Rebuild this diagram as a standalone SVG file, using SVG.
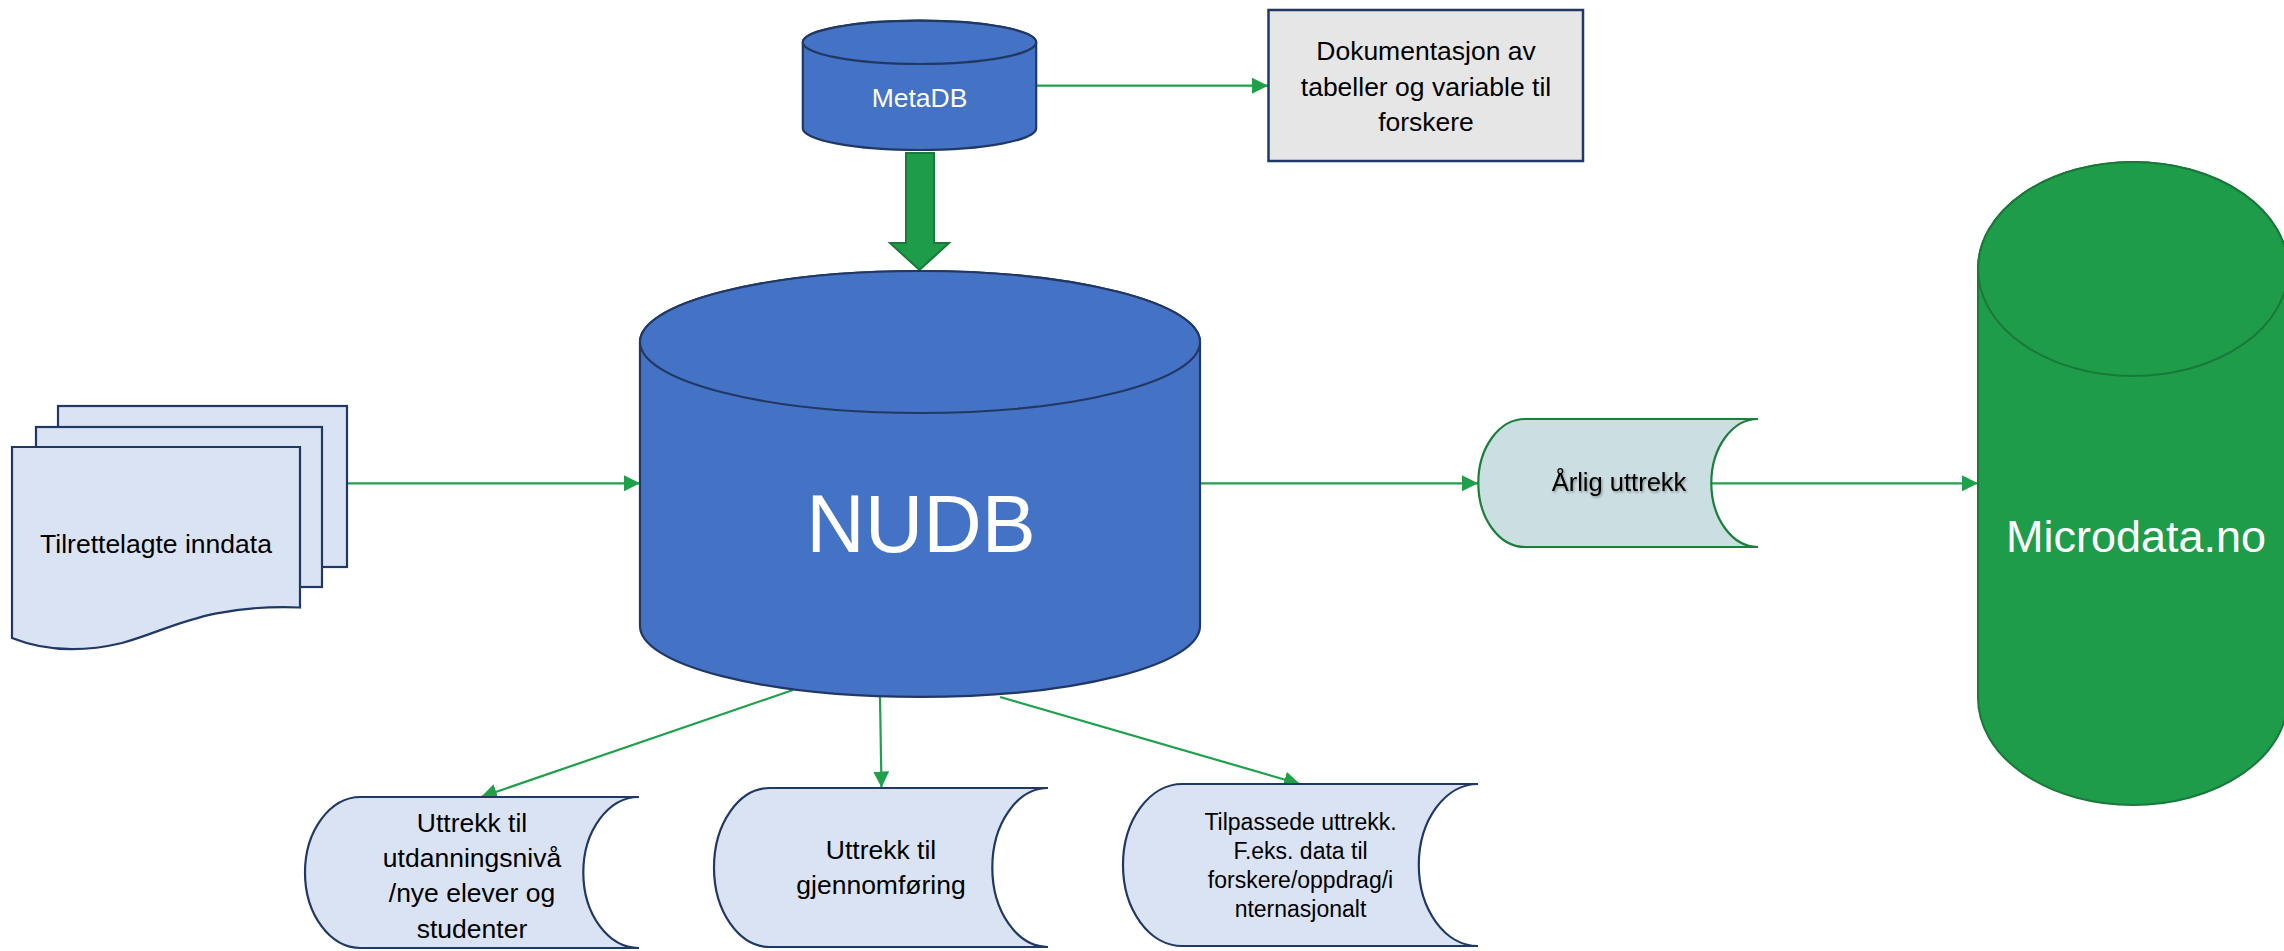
<svg xmlns="http://www.w3.org/2000/svg" width="2284" height="951" viewBox="0 0 2284 951">
<style>
.blue{fill:#4472c4;stroke:#203864;stroke-width:2.2}
.pale{fill:#dae3f3;stroke:#203864;stroke-width:2.2}
.grey{fill:#e7e6e6;stroke:#203864;stroke-width:2.5}
.teal{fill:#cbdee2;stroke:#1c7e3b;stroke-width:2.2}
.green{fill:#1e9c4a;stroke:#18793a;stroke-width:2}
.conn{stroke:#1fa04b;stroke-width:2.2;fill:none;marker-end:url(#ah)}
text{font-family:"Liberation Sans",Arial,sans-serif;text-anchor:middle}
.lbl{font-size:26.5px;fill:#000}
.sm{font-size:23px;fill:#000}
.wh{fill:#fff}
</style>
<defs>
<marker id="ah" markerUnits="userSpaceOnUse" markerWidth="16" markerHeight="16" viewBox="0 0 16 16" refX="16" refY="8" orient="auto">
<path d="M0,0 L16,8 L0,16 Z" fill="#1fa04b"/>
</marker>
<filter id="sh" x="-10%" y="-30%" width="120%" height="160%">
<feDropShadow dx="1.2" dy="1.5" stdDeviation="1" flood-color="#000" flood-opacity="0.35"/>
</filter>
</defs>

<g id="connectors">
<line class="conn" x1="1036" y1="85.7" x2="1268" y2="85.7"/>
<path id="thick-arrow" d="M906,153 H934 V243 H949 L919.5,270 L890,243 H906 Z" fill="#1e9c4a" stroke="#18793a" stroke-width="2"/>
<line class="conn" x1="347" y1="483.3" x2="640" y2="483.3"/>
<line class="conn" x1="1200" y1="483.3" x2="1478" y2="483.3"/>
<line class="conn" x1="1711" y1="483.3" x2="1978" y2="483.3"/>
<line class="conn" x1="793" y1="690" x2="481" y2="797"/>
<line class="conn" x1="880" y1="697" x2="881.5" y2="787.5"/>
<line class="conn" x1="1000" y1="697" x2="1300" y2="784"/>
</g>

<g id="metadb">
<path class="blue" d="M802.8,42.3 A116.7,21.7 0 0 1 1036.2,42.3 V128.3 A116.7,21.7 0 0 1 802.8,128.3 Z"/>
<ellipse class="blue" cx="919.5" cy="42.3" rx="116.7" ry="21.7"/>
<text class="wh" x="919.5" y="106.7" font-size="26.5">MetaDB</text>
</g>

<g id="dokumentasjon">
<rect class="grey" x="1268.5" y="10" width="314.5" height="151"/>
<text class="lbl" x="1426" y="60">Dokumentasjon av</text>
<text class="lbl" x="1426" y="95.5">tabeller og variable til</text>
<text class="lbl" x="1426" y="131">forskere</text>
</g>

<g id="nudb">
<path class="blue" d="M640,342 A280,71 0 0 1 1200,342 V626 A280,71 0 0 1 640,626 Z"/>
<ellipse class="blue" cx="920" cy="342" rx="280" ry="71"/>
<text class="wh" x="921" y="552" font-size="81">NUDB</text>
</g>

<g id="inndata">
<rect class="pale" x="58" y="406" width="289" height="161"/>
<rect class="pale" x="36" y="427" width="286" height="160"/>
<path class="pale" d="M12,447 H300 V607.5 C205,604 170,630 122,643 C80,653 42,650 12,638 Z"/>
<text class="lbl" x="156" y="552.7">Tilrettelagte inndata</text>
</g>

<g id="arlig">
<path class="teal" d="M1758,419 H1525 A46.7,64 0 0 0 1525,547 H1758 A46.7,64 0 0 1 1758,419 Z"/>
<text x="1619" y="491" font-size="25.5" fill="#000" filter="url(#sh)">Årlig uttrekk</text>
</g>

<g id="microdata">
<path class="green" d="M1978,269 A155,107 0 0 1 2288,269 V698 A155,107 0 0 1 1978,698 Z"/>
<ellipse class="green" cx="2133" cy="269" rx="155" ry="107"/>
<text class="wh" x="2136" y="551.7" font-size="45">Microdata.no</text>
</g>

<g id="uttrekk-utdanning">
<path class="pale" d="M639,797 H360.7 A55.7,75.5 0 0 0 360.7,948 H639 A55.7,75.5 0 0 1 639,797 Z"/>
<text class="lbl" x="472" y="832">Uttrekk til</text>
<text class="lbl" x="472" y="867">utdanningsnivå</text>
<text class="lbl" x="472" y="902">/nye elever og</text>
<text class="lbl" x="472" y="937.5">studenter</text>
</g>

<g id="uttrekk-gjennomforing">
<path class="pale" d="M1048,788 H769.7 A55.7,79.5 0 0 0 769.7,947 H1048 A55.7,79.5 0 0 1 1048,788 Z"/>
<text class="lbl" x="881" y="859">Uttrekk til</text>
<text class="lbl" x="881" y="893.5">gjennomføring</text>
</g>

<g id="tilpassede">
<path class="pale" d="M1478,784 H1182.2 A59.2,81 0 0 0 1182.2,946 H1478 A59.2,81 0 0 1 1478,784 Z"/>
<text class="sm" x="1300.5" y="830">Tilpassede uttrekk.</text>
<text class="sm" x="1300.5" y="859">F.eks. data til</text>
<text class="sm" x="1300.5" y="888">forskere/oppdrag/i</text>
<text class="sm" x="1300.5" y="917">nternasjonalt</text>
</g>
</svg>
